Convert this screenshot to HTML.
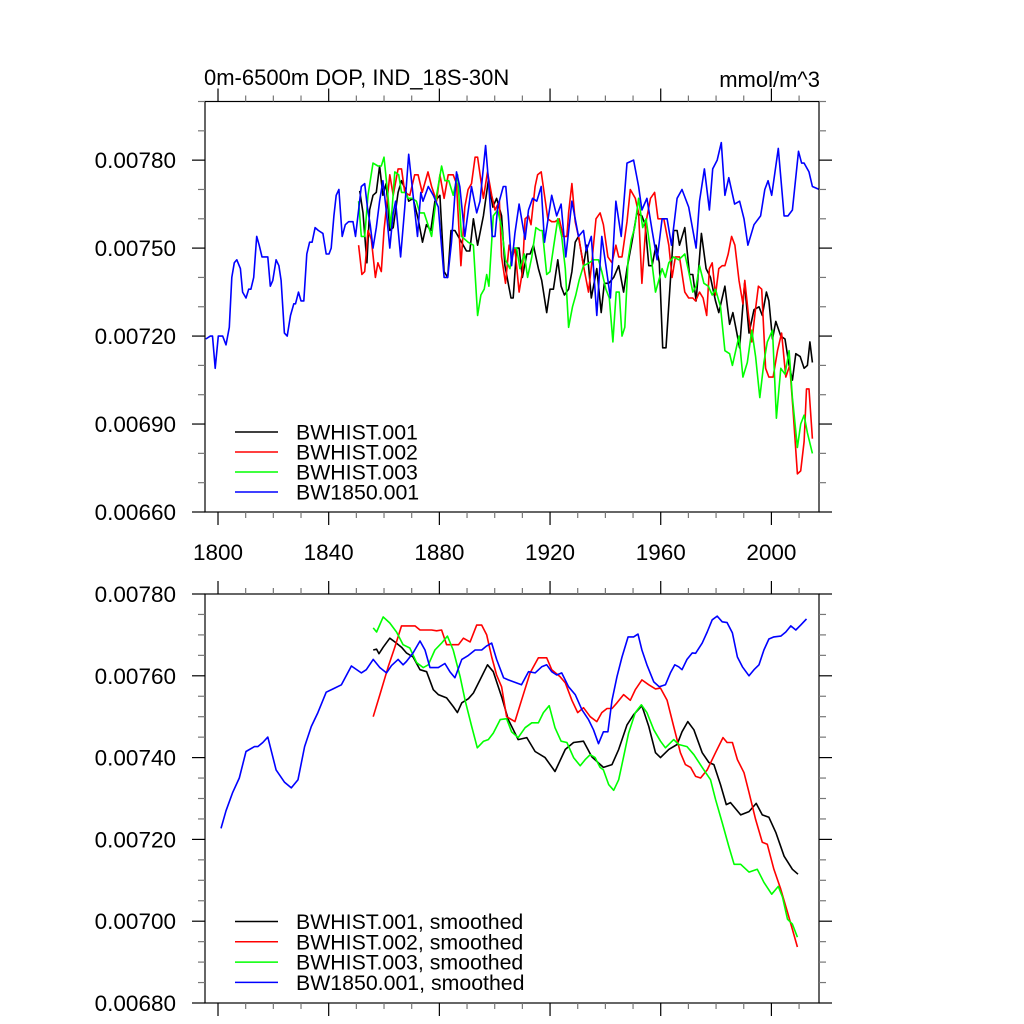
<!DOCTYPE html>
<html><head><meta charset="utf-8"><title>DOP chart</title>
<style>
html,body{margin:0;padding:0;background:#fff;}
svg{display:block;font-family:"Liberation Sans",Arial,sans-serif;}
</style></head>
<body>
<svg id="chart" width="1024" height="1024" viewBox="0 0 1024 1024" xmlns="http://www.w3.org/2000/svg">
<text x="204" y="85" font-size="22">0m-6500m DOP, IND_18S-30N</text>
<text x="820" y="87" font-size="22" text-anchor="end">mmol/m^3</text>
</svg>
<script>
// values are in units of 1e-5 mmol/m^3
const topBlackYears=[1851.2,1852.4,1853.8,1854.8,1856.0,1857.2,1858.4,1859.6,1860.8,1862.1,1863.3,1865.1,1866.3,1867.7,1868.9,1870.5,1872.3,1873.9,1875.3,1876.9,1878.4,1880.2,1881.7,1883.0,1884.2,1885.6,1886.8,1888.0,1889.8,1891.0,1892.3,1893.8,1895.9,1897.7,1899.3,1900.7,1902.5,
1903.7,1905.9,1906.7,1907.9,1908.8,1910.0,1911.6,1912.8,1914.0,1915.8,1917.0,1918.8,1920.0,1921.2,1922.8,1924.0,1925.2,1926.7,1927.9,1929.1,1930.3,1932.1,1933.3,1934.9,1936.9,1938.5,1939.6,1941.2,1943.0,1944.8,1946.6,1947.8,1949.6,1951.4,1953.2,1954.4,1955.7,1956.9,1958.3,1959.5,1960.7,1961.9,1963.5,1964.7,1965.9,1966.8,1968.7,1970.4,1971.6,1972.8,1974.7,1976.4,1978.0,1979.8,1981.0,1983.2,1984.9,1986.1,1987.3,1988.5,1990.3,1991.9,1993.7,1995.5,1996.7,1998.2,1999.1,2000.4,2001.6,2003.4,2004.9,2006.4,2007.6,2008.8,2010.4,2011.8,2013.0,2013.9,2014.8];
const topBlackVals=[769.5,762,745,763,768,769,778,768,772,756,757,769,773,770,766,767,760,752,758,756,766,768,742,740,756,756,754,752,749,749,760,751,761,773,764,767,761,
744,733,733,750,750,740,748,748,751,743,739,728,736,736,746,737,734,736,742,752,754,744,751,733,743,728,738,738,740,744,735,743,752,762,761,758,744,744,751,745,716,716,739,756,756,751,757,741,741,732,755,743,740,732,728,737,724,728,722,716,738,721,729,730,727,735,732,719,725,720,719,710,705,714,713,709,710,718,711];

const topRedYears=[1850.8,1852.0,1853.0,1854.2,1855.4,1856.9,1857.8,1859.0,1860.0,1862.1,1863.3,1865.1,1866.3,1867.5,1869.3,1871.1,1872.3,1873.8,1875.9,1877.2,1879.0,1880.2,1881.7,1883.2,1885.0,1886.2,1887.8,1889.2,1890.4,1891.6,1892.9,1893.8,1895.9,1897.4,1898.9,1900.1,1901.7,
1902.5,1903.9,1905.2,1906.4,1907.3,1908.8,1910.0,1911.0,1912.2,1913.1,1914.6,1915.5,1916.8,1918.0,1919.2,1920.6,1921.8,1923.3,1924.8,1926.1,1926.7,1927.9,1929.1,1930.5,1932.1,1933.9,1935.1,1936.6,1938.1,1939.3,1940.9,1942.4,1943.8,1944.8,1946.0,1947.8,1949.0,1950.8,1952.0,1953.2,1954.7,1956.3,1957.8,1959.0,1961.1,1962.9,1964.1,1965.3,1966.8,1968.7,1970.1,1971.6,1972.6,1974.0,1975.3,1976.6,1977.6,1978.6,1979.8,1981.0,1982.2,1983.2,1984.4,1985.6,1986.8,1988.3,1989.7,1990.4,1991.6,1992.9,1994.1,1995.3,1996.5,1997.9,1999.1,2000.6,2002.2,2003.7,2005.2,2006.6,2007.8,2009.4,2010.6,2011.8,2012.7,2013.6,2014.8];
const topRedVals=[751,741,742,756,753,740,745,742,756,775,768,777,777,769,768,775,775,769,776,771,766,775,767,775,775,772,744,764,770,772,781,781,767,776,768,763,766,
747,738,751,747,750,735,742,760,761,758,771,775,776,768,760,759,759,760,754,754,762,772,759,753,744,735,745,760,762,758,747,745,751,747,747,759,770,767,762,738,759,767,769,760,760,751,740,747,747,735,733,733,732,735,733,727,743,745,734,743,744,744,748,754,751,739,731,739,728,718,728,737,736,709,706,706,715,721,706,710,695,673,674,684,702,702,685];

const topGreenYears=[1850.8,1851.8,1853.0,1854.2,1856.0,1857.8,1859.0,1860.0,1861.4,1862.4,1863.9,1865.3,1866.3,1867.7,1868.7,1870.1,1871.7,1872.9,1874.5,1875.9,1877.2,1879.0,1880.8,1882.0,1883.4,1885.0,1886.6,1888.0,1890.4,1892.3,1893.8,1895.0,1896.2,1897.1,1897.9,1899.5,1901.1,
1902.5,1903.9,1905.5,1906.7,1907.9,1909.1,1910.7,1911.9,1913.4,1914.9,1916.4,1917.2,1918.8,1920.0,1921.2,1922.8,1924.2,1925.5,1926.7,1928.1,1929.3,1930.5,1932.1,1934.2,1935.7,1937.5,1938.7,1940.2,1941.4,1942.7,1943.9,1945.0,1946.0,1947.0,1948.2,1949.4,1950.6,1952.0,1953.5,1954.7,1956.3,1958.1,1959.3,1960.5,1961.7,1962.9,1964.7,1966.5,1968.7,1970.1,1971.6,1972.8,1974.0,1975.6,1977.2,1978.6,1979.8,1981.6,1983.2,1984.9,1985.9,1987.1,1988.3,1989.7,1991.3,1992.9,1994.3,1995.8,1997.3,1998.5,2000.4,2001.8,2003.4,2004.9,2006.4,2007.6,2009.4,2010.6,2011.8,2013.0,2014.8];
const topGreenVals=[766,754,754,768,779,778,778,781,768,757,776,775,769,769,767,767,766,762,762,758,754,768,778,773,773,768,775,754,752,751,727,734,736,741,737,761,763,
757,746,743,750,750,743,748,740,747,757,756,756,741,742,750,760,754,743,723,730,734,739,744,745,746,746,742,736,733,718,735,735,720,723,746,753,757,767,757,760,749,735,739,743,740,745,747,746,748,742,735,737,744,738,737,734,736,730,715,714,710,715,720,706,711,722,713,699,711,718,722,692,709,707,715,699,682,690,693,687,680];

const topBlueYears=[1795.6,1797.2,1798.0,1799.0,1800.1,1801.7,1802.9,1804.1,1805.0,1805.9,1806.8,1808.1,1808.9,1810.1,1811.1,1811.9,1812.9,1814.0,1814.9,1815.9,1818.0,1818.9,1819.8,1821.0,1822.0,1822.8,1824.0,1825.0,1826.2,1827.4,1828.0,1829.1,1830.0,1831.0,1832.1,1833.1,1834.0,1835.1,1836.3,1837.9,1839.1,1840.1,1840.9,1841.9,1842.7,1843.7,1844.9,1846.0,1847.2,1848.8,1849.7,1850.8,1851.8,1853.0,1854.0,1855.0,1856.0,1857.2,1858.4,1859.6,1860.8,1862.1,1863.3,1864.2,1866.0,1867.5,1868.9,1870.5,1872.1,1873.3,1874.1,1876.0,1877.8,1879.6,1881.7,1883.0,1884.4,1886.2,1887.4,1889.2,1891.6,1893.5,1894.7,1896.7,1897.9,1899.1,1900.1,1901.1,1903.1,1904.0,1904.9,
1906.1,1907.3,1908.8,1911.0,1912.2,1913.7,1915.2,1916.8,1918.0,1920.6,1922.4,1924.0,1925.7,1927.9,1930.3,1932.1,1933.1,1934.9,1936.9,1938.7,1941.8,1943.8,1945.7,1947.8,1950.2,1952.0,1953.2,1955.0,1956.9,1958.7,1960.5,1962.3,1963.9,1965.9,1967.7,1970.1,1972.8,1974.0,1975.8,1977.6,1978.8,1980.4,1981.9,1983.2,1984.6,1986.7,1988.5,1990.1,1991.5,1993.7,1996.1,1997.6,1998.8,2000.1,2002.5,2004.6,2006.0,2007.6,2009.8,2010.9,2011.8,2013.6,2014.8,2017.3];
const topBlueVals=[719,720,720,709,720,720,717,723,740,745,746,743,735,733,736,736,740,754,751,747,747,737,739,746,744,739,721,720,727,731,731,735,732,732,748,752,752,757,756,755,748,748,750,761,768,770,754,758,759,759,754,763,771,772,764,758,750,757,766,773,763,750,762,766,747,764,782,768,754,769,766,771,768,764,740,740,752,776,771,754,771,762,766,785,771,754,754,764,771,771,761,
744,755,765,753,763,767,766,771,752,768,761,765,747,766,754,756,749,754,727,754,733,766,754,779,780,771,763,767,756,746,760,760,751,767,770,764,750,766,777,763,777,780,786,768,774,765,766,760,751,758,761,770,773,768,784,761,761,763,783,779,779,776,771,770];

const botBlackYears=[1856.1,1857.3,1858.2,1859.7,1862.1,1863.9,1866.3,1868.1,1870.5,1873.0,1875.4,1877.8,1879.6,1882.6,1885.0,1886.5,1888.1,1890.5,1892.3,1894.7,1897.4,1899.5,
1902.5,1904.9,1908.5,1911.6,1914.6,1918.2,1921.8,1925.5,1928.5,1932.1,1935.1,1939.3,1942.4,1944.8,1947.8,1950.2,1953.2,1955.7,1958.1,1959.9,1962.9,1965.9,1967.7,1969.8,1972.0,1975.0,1977.4,1979.2,1981.6,1983.7,1985.2,1988.9,1991.9,1994.5,1996.7,1999.1,2001.6,2004.6,2007.6,2009.6];
const botBlackVals=[766.3,766.5,765.4,767,769.2,768.3,767,765.6,764.6,761.5,761,756.6,755.4,754.6,752.5,751,753.4,754.4,755.8,759,762.7,761,
754.9,749.3,744.4,744.9,741.5,740,736.6,742,743.7,744,740.2,737.6,738.3,742,748,750.5,752.7,747.6,741.2,740,742,743.2,746.3,748.8,746.8,741.2,738.8,738.3,733.4,728.5,729,726,726.8,728.8,726,725.4,721.7,715.9,712.7,711.5];

const botRedYears=[1856.1,1858.5,1861.5,1863.9,1866.3,1868.1,1871.2,1873.0,1875.4,1877.2,1879.0,1880.8,1882.6,1886.9,1888.7,1891.1,1893.5,1895.3,1897.1,1898.9,1900.7,
1902.5,1904.3,1907.3,1909.7,1912.8,1915.8,1918.8,1920.6,1923.6,1925.5,1927.9,1930.0,1932.1,1934.5,1936.9,1938.7,1940.6,1942.4,1944.2,1946.6,1949.0,1950.8,1953.2,1955.7,1958.1,1959.9,1962.3,1964.7,1967.1,1968.9,1970.8,1972.6,1974.4,1976.8,1979.8,1982.5,1984.0,1985.9,1987.7,1990.1,1991.9,1994.3,1996.7,1998.5,2000.9,2003.4,2005.8,2007.6,2009.4];
const botRedVals=[750,755.4,762.2,767,772.2,772.2,772.2,771.2,771.2,771.2,771,771.2,767.6,767.6,769.2,768.3,772.4,772.4,770,764.6,760.2,
757.3,750,748.8,754,760.7,764.4,764.4,761.5,759.8,758.3,754,751,752.2,750,748.8,751,752,752,753.4,755.4,754,756.6,759,757.8,756.8,757,754,747.6,741.2,738.3,737.6,735.4,735,737,741.2,744.9,743.7,743.7,739.5,736.3,731.5,724.9,719.3,718.8,712.7,707.8,702.2,698,693.7];

const botGreenYears=[1856.1,1857.3,1859.7,1862.1,1864.5,1866.9,1869.3,1871.8,1874.2,1876.0,1878.4,1880.8,1882.9,1885.0,1887.5,1889.3,1891.7,1893.7,1896.0,1897.7,1899.5,1902.0,
1904.3,1906.1,1908.5,1911.0,1913.4,1915.8,1917.6,1919.7,1921.8,1924.0,1926.1,1928.5,1930.9,1932.7,1934.5,1936.3,1938.1,1939.3,1941.2,1943.0,1944.8,1946.6,1948.4,1950.8,1953.0,1955.0,1957.5,1959.9,1961.7,1964.7,1966.5,1969.5,1972.0,1975.0,1978.0,1979.8,1982.2,1984.6,1986.5,1988.9,1991.9,1994.9,1997.3,2000.1,2002.5,2004.0,2005.8,2007.6,2009.4];
const botGreenVals=[771.7,770.7,774.4,772.9,770.7,767.6,766.8,763.2,762,762.7,766.3,768,769.7,766.3,759.8,754,747.6,742.4,744,744.4,746,749.3,
749.5,746.3,744.9,747.3,748.5,748.5,751,752.7,747.3,744,743.7,740,738,739.5,740.7,740,737.6,737,733.4,732,734.6,740.2,746,751,752.9,751,746.8,744,742.4,744.4,743.2,742.7,740.7,737.6,734.6,729.8,724.1,718.3,713.9,713.9,712,712.7,709.5,706.6,708.5,705.9,700.5,699.3,696.1];

const botBlueYears=[1801.1,1802.9,1805.3,1807.7,1810.1,1813.2,1814.4,1816.2,1818.0,1821.0,1824.0,1826.5,1828.9,1831.3,1833.7,1836.1,1839.1,1841.6,1844.6,1848.2,1851.8,1853.6,1856.1,1858.5,1860.9,1862.7,1865.1,1866.9,1868.1,1870.5,1873.0,1874.8,1876.6,1879.6,1882.0,1883.8,1885.6,1888.1,1890.5,1892.9,1895.3,1897.1,1898.9,1900.7,1903.2,
1904.9,1909.7,1912.2,1914.6,1917.0,1918.8,1920.6,1922.4,1924.2,1926.7,1929.1,1931.5,1933.9,1935.7,1937.5,1939.3,1940.9,1942.4,1944.2,1946.0,1948.2,1950.2,1951.8,1953.2,1955.0,1957.5,1959.5,1961.7,1963.5,1965.1,1966.5,1967.7,1969.5,1971.4,1972.6,1975.0,1976.8,1978.6,1980.4,1982.2,1984.0,1985.9,1987.7,1989.5,1991.9,1993.7,1995.5,1997.3,1999.1,2000.9,2003.4,2005.2,2007.0,2008.8,2010.6,2012.7];
const botBlueVals=[722.7,727,731.5,735,741.5,742.7,742.7,743.7,745,737,734,732.6,734.6,742.7,747.6,751,756,756.8,757.8,762.4,760.7,761.5,764,762,760.7,762.5,764,762.7,763.5,765.6,768.5,766.3,762,762,763,761,759.5,764,765,766.3,766.3,767.3,768,764,759.5,
759,757.8,761,760.7,762.2,762.7,761,760.2,760.7,757.3,755.4,751.7,749.3,746.8,743.4,746.3,746.3,754,759.8,764.6,769.5,769.5,770.2,766.3,762.7,758.5,757.3,757.8,760.7,762.7,762.2,761.5,764,765.6,765.5,768,770.7,773.7,774.6,773.2,773,770.5,764.6,762.2,760,761.5,762.7,766.3,769,769.5,769.7,770.7,772.2,771.2,772.4,773.9];

const xTickYears=[1800,1840,1880,1920,1960,2000];
const topYTicks=[660,690,720,750,780];
const topYLabels=["0.00660","0.00690","0.00720","0.00750","0.00780"];
const botYTicks=[680,700,720,740,760,780];
const botYLabels=["0.00680","0.00700","0.00720","0.00740","0.00760","0.00780"];
const topLegend=["BWHIST.001","BWHIST.002","BWHIST.003","BW1850.001"];
const botLegend=["BWHIST.001, smoothed","BWHIST.002, smoothed","BWHIST.003, smoothed","BW1850.001, smoothed"];
const colors=["#000000","#ff0000","#00ff00","#0000ff"];

const NS="http://www.w3.org/2000/svg";
const svg=document.getElementById('chart');
const X0=205,X1=819;
const YR0=1795.3,YR1=2017.2;
function xScale(yr){return X0+(yr-YR0)/(YR1-YR0)*(X1-X0);}
function mk(tag,attrs,parent){const e=document.createElementNS(NS,tag);for(const k in attrs)e.setAttribute(k,attrs[k]);(parent||svg).appendChild(e);return e;}

function panel(cfg){
  const g=mk('g',{});
  
  
  const yS=v=>cfg.yb-(v-cfg.vmin)/(cfg.vmax-cfg.vmin)*(cfg.yb-cfg.yt);
  cfg.series.forEach((s,i)=>{
    const pts=s.years.map((yr,j)=>xScale(yr).toFixed(1)+','+yS(s.vals[j]).toFixed(1)).join(' ');
    const pl=mk('polyline',{points:pts,fill:'none',stroke:colors[i],'stroke-width':1.6,'stroke-linejoin':'round'},g);
    
    
  });
  const fr=mk('rect',{x:X0,y:cfg.yt,width:X1-X0,height:cfg.yb-cfg.yt,fill:'none',stroke:'#000','stroke-width':1.2},g);
  
  
  for(let yr=1800;yr<=2010;yr+=10){
    const x=xScale(yr);const maj=(yr-1800)%40===0;const L=maj?13:6;
    const c=maj?'#000':'#777';
    mk('line',{x1:x,x2:x,y1:cfg.yb,y2:cfg.yb+L,stroke:c,'stroke-width':1.2},g);
    mk('line',{x1:x,x2:x,y1:cfg.yt,y2:cfg.yt-L,stroke:c,'stroke-width':1.2},g);
  }
  for(let v=cfg.vmin;v<=cfg.vmax+0.001;v+=cfg.minor){
    const y=yS(v);const maj=cfg.yticks.some(t=>Math.abs(t-v)<0.01);const L=maj?13:7;
    const c=maj?'#000':'#777';
    mk('line',{x1:X0,x2:X0-L,y1:y,y2:y,stroke:c,'stroke-width':1.2},g);
    mk('line',{x1:X1,x2:X1+L,y1:y,y2:y,stroke:c,'stroke-width':1.2},g);
  }
  cfg.yticks.forEach((t,i)=>{
    const tx=mk('text',{x:176,y:yS(t)+8,'font-size':22.5,'text-anchor':'end'},g);
    tx.textContent=cfg.ylabels[i];
    
    
  });
  if(cfg.xlabels){
    xTickYears.forEach(yr=>{
      const tx=mk('text',{x:xScale(yr),y:560,'font-size':22.5,'text-anchor':'middle'},g);
      tx.textContent=String(yr);
      
      
    });
  }
  cfg.legend.forEach((lab,i)=>{
    const y=cfg.legY+i*cfg.legDy;
    const le=mk('g',{},g);
    
    
    mk('line',{x1:235,x2:278,y1:y,y2:y,stroke:colors[i],'stroke-width':1.5},le);
    const tx=mk('text',{x:296,y:y+7.5,'font-size':21.3},le);
    tx.textContent=lab;
  });
}

panel({name:'top-panel',yt:101.5,yb:512,vmin:660,vmax:800,minor:10,yticks:topYTicks,ylabels:topYLabels,xlabels:true,
  legend:topLegend,legY:432,legDy:20,
  series:[{name:'bwhist-001-line',years:topBlackYears,vals:topBlackVals},
          {name:'bwhist-002-line',years:topRedYears,vals:topRedVals},
          {name:'bwhist-003-line',years:topGreenYears,vals:topGreenVals},
          {name:'bw1850-001-line',years:topBlueYears,vals:topBlueVals}]});
panel({name:'bottom-panel',yt:594,yb:1003,vmin:680,vmax:780,minor:5,yticks:botYTicks,ylabels:botYLabels,xlabels:false,
  legend:botLegend,legY:921.5,legDy:20.3,
  series:[{name:'bwhist-001-smoothed-line',years:botBlackYears,vals:botBlackVals},
          {name:'bwhist-002-smoothed-line',years:botRedYears,vals:botRedVals},
          {name:'bwhist-003-smoothed-line',years:botGreenYears,vals:botGreenVals},
          {name:'bw1850-001-smoothed-line',years:botBlueYears,vals:botBlueVals}]});
</script>
</body></html>
